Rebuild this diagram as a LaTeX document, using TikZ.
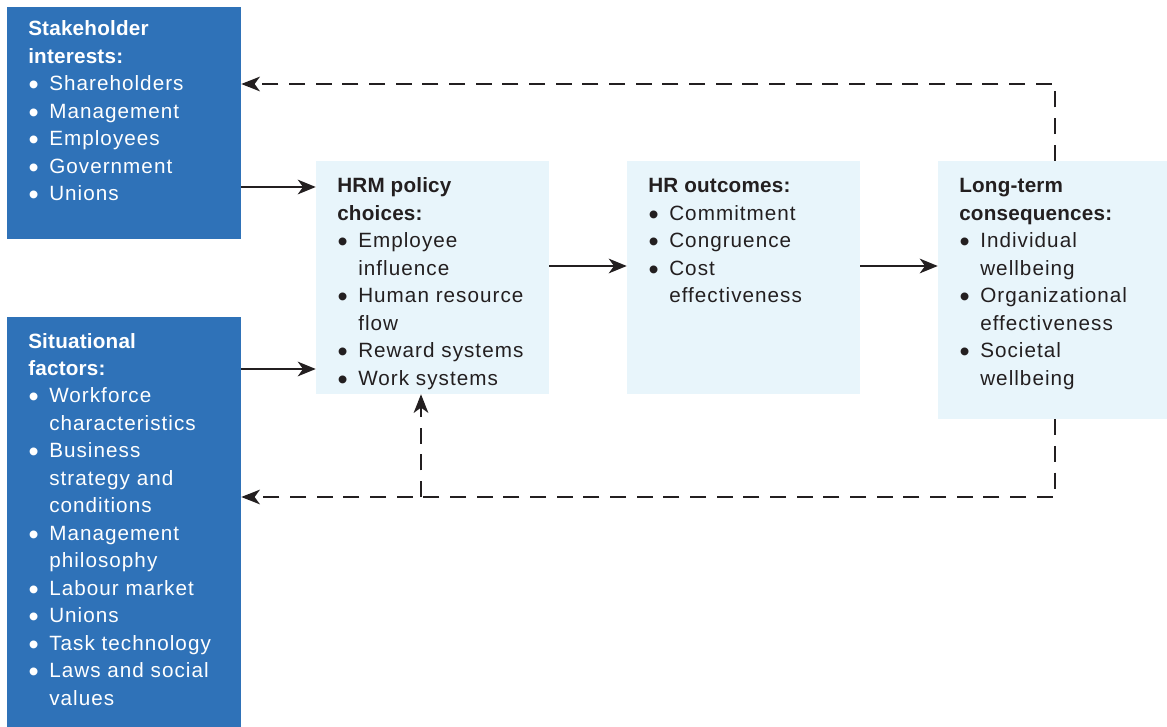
\documentclass[tikz,border=0pt]{standalone}
\usepackage{fontspec}
\setmainfont{Liberation Sans}[LetterSpace=5, BoldFeatures={LetterSpace=1}]
\usetikzlibrary{arrows.meta}
\definecolor{dblue}{HTML}{2F72B8}
\definecolor{lblue}{HTML}{E8F5FB}
\definecolor{ink}{HTML}{231F20}
\newcommand\bul{\makebox[15.75pt][l]{\hspace{0.3pt}\raisebox{-0.19em}{\scalebox{1.4}{\textbullet}}}}
\newcommand\hang{\hspace*{15.75pt}}
\tikzset{
  darkbox/.style={rectangle, fill=dblue, draw=none, inner sep=0pt},
  lightbox/.style={rectangle, fill=lblue, draw=none, inner sep=0pt},
  txt/.style={anchor=base west, inner sep=0pt, text width=190pt, align=flush left,
    font=\fontsize{15.5pt}{20.6pt}\selectfont},
  wtxt/.style={txt, text=white},
  ktxt/.style={txt, text=ink},
  solidarr/.style={draw=ink, line width=1.4pt, -{Stealth[length=13.5pt,width=11pt,inset=4pt]}},
  dasharr/.style={draw=ink, line width=1.3pt, dash pattern=on 12pt off 8pt, -{Stealth[length=14pt,width=11pt,inset=4pt]}}
}
\begin{document}
\begin{tikzpicture}[x=0.75pt,y=-0.75pt]
\useasboundingbox (0,0) rectangle (1167,727);
\fill[white] (0,0) rectangle (1167,727);

% boxes
\node[darkbox, minimum width=175.5pt, minimum height=174pt] (sh) at (124,123) {};
\node[darkbox, minimum width=175.5pt, minimum height=307.5pt] (sit) at (124,522) {};
\node[lightbox, minimum width=174.75pt, minimum height=174.75pt] (hrm) at (432.5,277.5) {};
\node[lightbox, minimum width=174.75pt, minimum height=174.75pt] (out) at (743.5,277.5) {};
\node[lightbox, minimum width=171.75pt, minimum height=193.5pt] (lt) at (1052.5,290) {};

% texts
\node[wtxt] (sht) at (28,36) {\textbf{Stakeholder}\\\textbf{interests:}\\
\bul Shareholders\\\bul Management\\\bul Employees\\\bul Government\\\bul Unions};

\node[wtxt] (sitt) at (28,348) {\textbf{Situational}\\\textbf{factors:}\\
\bul Workforce\\\hang characteristics\\\bul Business\\\hang strategy and\\\hang conditions\\
\bul Management\\\hang philosophy\\\bul Labour market\\\bul Unions\\\bul Task technology\\
\bul Laws and social\\\hang values};

\node[ktxt] (hrmt) at (337,193) {\textbf{HRM policy}\\\textbf{choices:}\\
\bul Employee\\\hang influence\\\bul Human resource\\\hang flow\\\bul Reward systems\\\bul Work systems};

\node[ktxt] (outt) at (648,193) {\textbf{HR outcomes:}\\
\bul Commitment\\\bul Congruence\\\bul Cost\\\hang effectiveness};

\node[ktxt] (ltt) at (959,193) {\textbf{Long-term}\\\textbf{consequences:}\\
\bul Individual\\\hang wellbeing\\\bul Organizational\\\hang effectiveness\\\bul Societal\\\hang wellbeing};

% solid arrows
\draw[solidarr] (sh.east |- 0,187) -- (hrm.west |- 0,187);
\draw[solidarr] (sit.east |- 0,369) -- (hrm.west |- 0,369);
\draw[solidarr] (hrm.east |- 0,266) -- (out.west |- 0,266);
\draw[solidarr] (out.east |- 0,266) -- (lt.west |- 0,266);

% dashed feedback
\coordinate (br) at (421,497);
\draw[dasharr] (lt.north -| 1055,0) |- (sh.east |- 0,84);
\draw[dasharr] (lt.south -| 1055,0) |- (sit.east |- br);
\draw[dasharr] (br) -- (hrm.south -| br);
\end{tikzpicture}
\end{document}
